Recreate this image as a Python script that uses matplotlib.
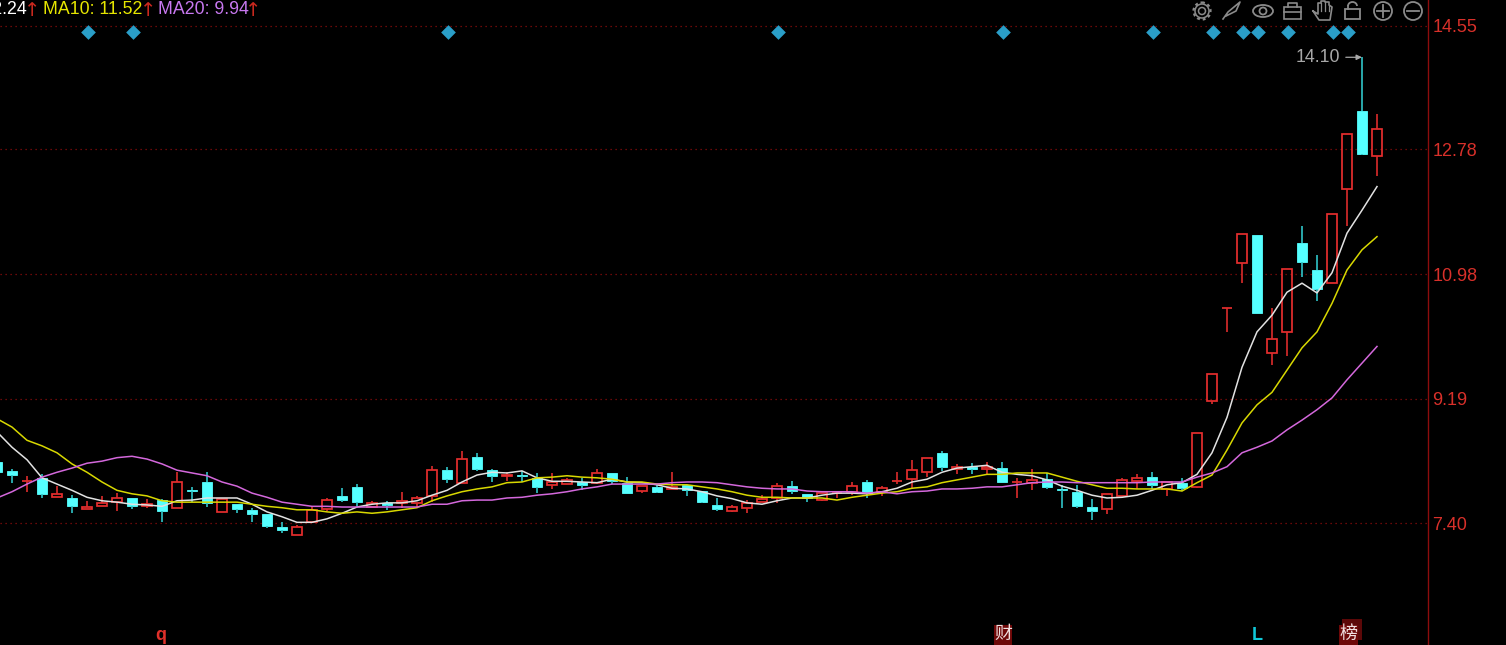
import numpy as np
import matplotlib
matplotlib.use('Agg')
import matplotlib.pyplot as plt
from matplotlib.patches import Rectangle, Circle, Ellipse, Arc

plt.rcParams['font.family'] = ['Liberation Sans', 'DejaVu Sans']

# dados
opens = [8.28, 8.15, 8.00, 8.05, 7.77, 7.76, 7.60, 7.64, 7.70, 7.76, 7.64, 7.73, 7.62, 7.87, 7.99, 7.56, 7.67, 7.59, 7.53, 7.34, 7.23, 7.41, 7.60,
         7.79, 7.92, 7.63, 7.69, 7.69, 7.69, 7.79, 8.16, 7.98, 8.35, 8.16, 8.08, 8.09, 8.05, 7.95, 7.96, 7.99, 7.98, 8.12, 7.98, 7.86, 7.92, 7.89,
         7.95, 7.86, 7.66, 7.57, 7.62, 7.70, 7.76, 7.93, 7.82, 7.73, 7.83, 7.85, 7.99, 7.85, 8.00, 8.03, 8.13, 8.41, 8.18, 8.21, 8.18, 8.19, 7.99,
         7.98, 8.03, 7.89, 7.85, 7.63, 7.60, 7.79, 8.00, 8.06, 7.89, 7.98, 7.92, 9.16, 10.49, 11.14, 11.54, 9.85, 10.15, 11.43, 11.04, 10.85, 12.20, 13.33, 12.68]
closes = [8.13, 8.09, 8.00, 7.82, 7.82, 7.64, 7.63, 7.69, 7.76, 7.64, 7.67, 7.57, 7.99, 7.86, 7.69, 7.75, 7.60, 7.53, 7.36, 7.30, 7.34, 7.59, 7.73,
          7.73, 7.70, 7.69, 7.66, 7.72, 7.76, 8.16, 8.03, 8.32, 8.18, 8.08, 8.09, 8.08, 7.92, 7.99, 8.02, 7.95, 8.12, 8.00, 7.83, 7.93, 7.85, 7.92,
          7.87, 7.70, 7.60, 7.63, 7.69, 7.75, 7.93, 7.86, 7.76, 7.83, 7.83, 7.93, 7.83, 7.90, 8.00, 8.16, 8.34, 8.21, 8.21, 8.18, 8.21, 7.99, 7.99,
          8.02, 7.92, 7.88, 7.64, 7.57, 7.82, 8.02, 8.05, 7.95, 7.99, 7.90, 8.69, 9.54, 10.49, 11.56, 10.42, 10.05, 11.05, 11.15, 10.77, 11.85, 12.99, 12.71, 13.07]
highs = [8.31, 8.18, 8.08, 8.10, 7.93, 7.80, 7.72, 7.79, 7.83, 7.76, 7.75, 7.75, 8.13, 7.92, 8.13, 7.75, 7.67, 7.62, 7.53, 7.41, 7.37, 7.64, 7.76,
         7.90, 7.96, 7.72, 7.72, 7.85, 7.79, 8.22, 8.21, 8.44, 8.41, 8.18, 8.13, 8.15, 8.12, 8.12, 8.05, 8.05, 8.18, 8.12, 8.06, 7.93, 7.95, 8.13,
         7.95, 7.86, 7.76, 7.66, 7.73, 7.80, 7.98, 8.00, 7.82, 7.83, 7.86, 7.99, 8.02, 7.93, 8.13, 8.31, 8.34, 8.44, 8.25, 8.26, 8.28, 8.28, 8.05,
         8.18, 8.12, 7.95, 7.95, 7.75, 7.82, 8.05, 8.10, 8.13, 7.99, 8.05, 8.69, 9.54, 10.49, 11.56, 11.54, 10.49, 11.05, 11.67, 11.26, 11.85, 12.99, 14.10, 13.28]
lows = [8.10, 7.98, 7.85, 7.76, 7.77, 7.54, 7.60, 7.64, 7.57, 7.60, 7.62, 7.41, 7.62, 7.70, 7.63, 7.56, 7.54, 7.41, 7.33, 7.26, 7.23, 7.41, 7.57,
        7.70, 7.64, 7.63, 7.59, 7.62, 7.62, 7.70, 7.98, 7.98, 8.15, 7.99, 8.00, 7.99, 7.83, 7.89, 7.96, 7.87, 7.96, 7.96, 7.83, 7.83, 7.83, 7.89,
        7.79, 7.69, 7.57, 7.56, 7.54, 7.70, 7.69, 7.82, 7.70, 7.72, 7.76, 7.80, 7.76, 7.79, 7.96, 7.89, 8.06, 8.15, 8.10, 8.10, 8.10, 7.99, 7.76,
        7.87, 7.89, 7.62, 7.62, 7.44, 7.53, 7.79, 7.89, 7.89, 7.79, 7.86, 7.90, 9.11, 10.15, 10.85, 10.42, 9.67, 9.80, 10.94, 10.59, 10.85, 11.67, 12.69, 12.39]
ma5 = [8.71, 8.49, 8.31, 8.05, 7.96, 7.87, 7.77, 7.72, 7.70, 7.67, 7.66, 7.64, 7.72, 7.73, 7.76, 7.76, 7.76, 7.67, 7.56, 7.49, 7.41, 7.41, 7.46,
       7.54, 7.63, 7.67, 7.69, 7.69, 7.72, 7.80, 7.87, 7.99, 8.09, 8.13, 8.12, 8.15, 8.05, 8.00, 8.00, 7.99, 7.98, 8.03, 7.99, 7.98, 7.95, 7.90,
       7.89, 7.85, 7.79, 7.75, 7.69, 7.67, 7.72, 7.76, 7.76, 7.80, 7.83, 7.83, 7.82, 7.85, 7.90, 7.99, 8.03, 8.13, 8.19, 8.21, 8.23, 8.13, 8.10,
       8.08, 8.02, 7.93, 7.87, 7.80, 7.76, 7.77, 7.80, 7.87, 7.95, 7.98, 8.10, 8.41, 8.92, 9.64, 10.15, 10.39, 10.72, 10.85, 10.71, 11.00, 11.57, 11.90, 12.24]
ma10 = [8.90, 8.78, 8.59, 8.51, 8.41, 8.25, 8.13, 7.99, 7.87, 7.82, 7.79, 7.72, 7.70, 7.70, 7.70, 7.70, 7.70, 7.67, 7.64, 7.62, 7.59, 7.59, 7.56,
        7.54, 7.56, 7.54, 7.56, 7.59, 7.62, 7.72, 7.79, 7.85, 7.89, 7.92, 7.98, 7.99, 8.05, 8.06, 8.08, 8.06, 8.05, 8.03, 7.99, 7.99, 7.96, 7.95,
        7.95, 7.92, 7.89, 7.85, 7.80, 7.77, 7.77, 7.76, 7.76, 7.76, 7.73, 7.77, 7.80, 7.83, 7.85, 7.90, 7.92, 7.98, 8.02, 8.06, 8.10, 8.10, 8.12,
        8.12, 8.12, 8.06, 8.00, 7.95, 7.90, 7.90, 7.89, 7.89, 7.89, 7.86, 7.98, 8.09, 8.45, 8.84, 9.10, 9.28, 9.60, 9.92, 10.15, 10.56, 11.04, 11.33, 11.52]
ma20 = [7.76, 7.85, 7.96, 8.06, 8.13, 8.19, 8.26, 8.29, 8.34, 8.36, 8.32, 8.25, 8.16, 8.12, 8.08, 7.99, 7.93, 7.83, 7.77, 7.70, 7.67, 7.64, 7.64,
        7.63, 7.63, 7.63, 7.63, 7.63, 7.63, 7.67, 7.67, 7.72, 7.73, 7.73, 7.76, 7.77, 7.80, 7.82, 7.85, 7.89, 7.92, 7.96, 7.96, 7.96, 7.96, 7.98,
        7.99, 7.99, 7.98, 7.95, 7.92, 7.90, 7.89, 7.89, 7.86, 7.85, 7.85, 7.85, 7.83, 7.85, 7.82, 7.85, 7.86, 7.89, 7.89, 7.90, 7.92, 7.92, 7.95,
        7.98, 7.99, 7.99, 7.98, 7.98, 7.98, 7.98, 7.98, 7.99, 7.99, 7.99, 8.06, 8.12, 8.21, 8.41, 8.49, 8.58, 8.74, 8.88, 9.03, 9.20, 9.46, 9.70, 9.94]

y_ticks = [7.40, 9.19, 10.98, 12.78, 14.55]
diamantes = [5, 8, 29, 51, 66, 76, 80, 82, 83, 85, 88, 89]
nivel_diamante = 14.47
pico = 14.10

vermelho = '#e62e2e'
ciano = '#55ffff'
ciano_pavio = '#2fc4c8'

xs = np.arange(-1, 92)

fig = plt.figure(figsize=(15.06, 6.45), dpi=100, facecolor='black')
ax = fig.add_axes([0, 0, 1428 / 1506, 1], facecolor='black')

# grade pontilhada
for t in y_ticks:
    ax.axhline(t, color='#8c0d0d', lw=0.9, linestyle=(0, (1, 3)), zorder=1)

# candles
largura = 0.64
for x, o, c, h, l in zip(xs, opens, closes, highs, lows):
    topo = max(o, c)
    base = min(o, c)
    if c >= o:
        cor_p, cor_b = '#dc2c2c', vermelho
        ax.add_patch(Rectangle((x - largura / 2, base), largura, topo - base, facecolor='none',
                               edgecolor=cor_b, lw=1.25, zorder=2))
    else:
        cor_p, cor_b = ciano_pavio, ciano
        ax.add_patch(Rectangle((x - largura / 2, base), largura, topo - base, facecolor=cor_b,
                               edgecolor=cor_b, lw=0.6, zorder=2))
    ax.plot([x, x], [topo, h], color=cor_p, lw=1.2, solid_capstyle='butt', zorder=2)
    ax.plot([x, x], [base, l], color=cor_p, lw=1.2, solid_capstyle='butt', zorder=2)

# medias moveis
ax.plot(xs, ma5, color='#e2e2e2', lw=1.1, zorder=3)
ax.plot(xs, ma10, color='#d8d800', lw=1.1, zorder=3)
ax.plot(xs, ma20, color='#d468dc', lw=1.1, zorder=3)

# diamantes azuis
ax.scatter(np.array(diamantes) + 0.07, [nivel_diamante] * len(diamantes), marker='D', s=56, color='#2a9ec8',
           linewidths=0, zorder=4)

# maximo
ax.annotate('14.10', xy=(90, pico), xytext=(88.55, pico), color='#a8a8a8', fontsize=12.8, ha='right', va='center',
            arrowprops=dict(arrowstyle='-|>,head_width=0.12,head_length=0.25', color='#a8a8a8', lw=0.9,
                            shrinkA=2, shrinkB=0))

ax.set_xlim(-0.8, 94.4)
ax.set_ylim(5.645, 14.924)
ax.set_xticks([])
ax.set_yticks(y_ticks)
ax.set_yticklabels(['%.2f' % t for t in y_ticks])
ax.yaxis.tick_right()
ax.tick_params(axis='y', length=0, pad=3, labelcolor='#d8302a', labelsize=13)
for lado in ['left', 'top', 'bottom']:
    ax.spines[lado].set_visible(False)
ax.spines['right'].set_color('#8c0d0d')
ax.spines['right'].set_linewidth(1.0)

# camada em pixels para legenda, icones e marcas de baixo
px = fig.add_axes([0, 0, 1, 1], facecolor='none')
px.set_xlim(0, 1506)
px.set_ylim(645, 0)
px.axis('off')

px.text(27, 10, 'MA5: 12.24', color='white', fontsize=12.8, ha='right', va='center')
px.text(43, 10, 'MA10: 11.52', color='#e6e600', fontsize=12.8, va='center')
px.text(158, 10, 'MA20: 9.94', color='#c878f0', fontsize=12.8, va='center')
for x_seta in [32, 148, 253]:
    px.text(x_seta, 11, '↑', color='#c8281e', fontsize=14, ha='center', va='center', family='DejaVu Sans')

# icones da barra (desenho simples)
ic = '#8a8a8a'
px.add_patch(Circle((1202, 11), 3.5, fill=False, ec=ic, lw=1.1))
px.add_patch(Circle((1202, 11), 7, fill=False, ec=ic, lw=1.1))
px.add_patch(Circle((1202, 11), 8.5, fill=False, ec=ic, lw=1.6, linestyle=(0, (1.3, 1.3))))
px.plot([1223, 1228, 1240, 1236, 1226], [19, 12, 2, 11, 16], color=ic, lw=1.2)
px.add_patch(Ellipse((1263, 11), 20, 12, fill=False, ec=ic, lw=1.3))
px.add_patch(Circle((1263, 11), 3.5, fill=False, ec=ic, lw=1.3))
px.add_patch(Rectangle((1284, 7), 17, 12, fill=False, ec=ic, lw=1.2))
px.plot([1288, 1288, 1297, 1297], [7, 3, 3, 7], color=ic, lw=1.2)
px.plot([1284, 1301], [12, 12], color=ic, lw=1.2)
px.plot([1313, 1318, 1318, 1321, 1321, 1325, 1325, 1329, 1329, 1332, 1330, 1319, 1313],
        [11, 14, 3, 3, 1, 1, 2, 2, 5, 7, 20, 20, 11], color=ic, lw=1.2)
px.plot([1321, 1321], [3, 11], color=ic, lw=0.9)
px.plot([1325, 1325], [2, 11], color=ic, lw=0.9)
px.plot([1329, 1329], [5, 11], color=ic, lw=0.9)
px.add_patch(Rectangle((1345, 9), 15, 10, fill=False, ec=ic, lw=1.3))
px.plot([1348, 1348], [9, 6], color=ic, lw=1.3)
px.add_patch(Arc((1352.5, 6), 9, 8, theta1=180, theta2=360, ec=ic, lw=1.3))
px.add_patch(Circle((1383, 11), 9, fill=False, ec=ic, lw=1.3))
px.plot([1377, 1389], [11, 11], color=ic, lw=1.3)
px.plot([1383, 1383], [5, 17], color=ic, lw=1.3)
px.add_patch(Circle((1413, 11), 9, fill=False, ec=ic, lw=1.3))
px.plot([1407, 1419], [11, 11], color=ic, lw=1.3)

# marcas de baixo
cjk = ['Noto Sans CJK SC', 'DejaVu Sans']
px.text(161, 635, 'q', color='#e0302a', fontsize=13, fontweight='bold', ha='center', va='center')
px.add_patch(Rectangle((994, 625), 18, 20, color='#6e0808', lw=0))
px.text(1003, 634, '财', color='#f0e0e0', fontsize=13, ha='center', va='center', family=cjk)
px.text(1257, 635, 'L', color='#10c8d8', fontsize=13, fontweight='bold', ha='center', va='center')
px.add_patch(Rectangle((1342, 619), 20, 21, color='#5c0808', lw=0))
px.add_patch(Rectangle((1339, 625), 19, 20, color='#6e0808', lw=0))
px.text(1349, 634, '榜', color='#f0e0e0', fontsize=13, ha='center', va='center', family=cjk)

plt.savefig('out.png', dpi=100, facecolor='black')
